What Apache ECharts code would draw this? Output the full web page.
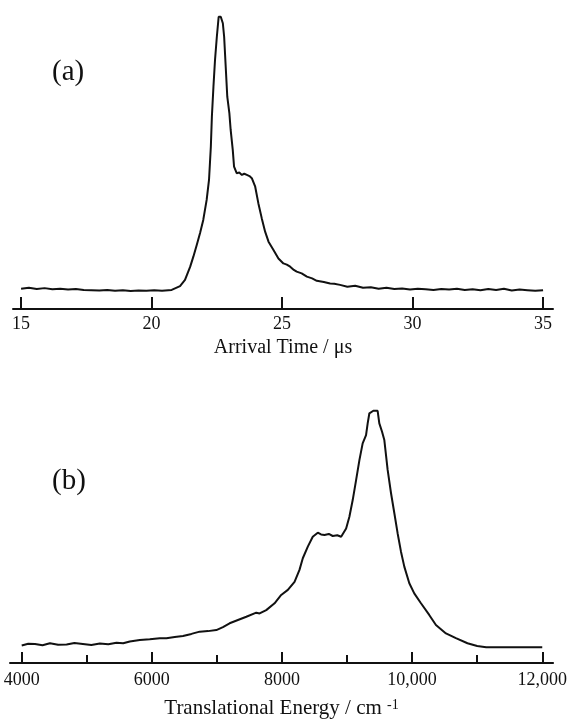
<!DOCTYPE html>
<html>
<head>
<meta charset="utf-8">
<script src="https://cdn.jsdelivr.net/npm/echarts@6/dist/echarts.min.js"></script>
<style>
  html, body { margin: 0; padding: 0; background: #fff; }
  #chart { width: 570px; height: 723px; }
</style>
</head>
<body>
<div id="chart"></div>
<script>
// panel (a): arrival time (us) vs signal (arb.)
const timeUs = [
  15.0, 15.3, 15.6, 15.9, 16.2, 16.5, 16.8, 17.1, 17.4, 17.7, 18.0, 18.3, 18.6, 18.9, 19.2, 19.5, 19.8, 20.1, 20.4, 20.77,
  21.09, 21.28, 21.48, 21.6, 21.73, 21.86, 21.98, 22.11, 22.2, 22.27, 22.31, 22.37, 22.43, 22.5, 22.57, 22.65,
  22.73, 22.78, 22.84, 22.9, 22.98, 23.03, 23.11, 23.16, 23.26, 23.36, 23.46, 23.55, 23.65, 23.75, 23.84, 23.97,
  24.09, 24.22, 24.35, 24.48, 24.67, 24.86, 25.05, 25.18, 25.31, 25.45, 25.56, 25.75, 25.95, 26.15, 26.33, 26.6, 26.84, 27.0, 27.22,
  27.5, 27.8, 28.1, 28.4, 28.7, 29.0, 29.3, 29.6, 29.9, 30.2, 30.5, 30.8, 31.1, 31.4, 31.7, 32.0, 32.3, 32.6, 32.9,
  33.2, 33.5, 33.8, 34.1, 34.4, 34.7, 35.0
];
const signalA = [
  6.9, 7.2, 6.8, 7.1, 6.7, 6.9, 6.6, 6.8, 6.5, 6.4, 6.3, 6.5, 6.2, 6.4, 6.1, 6.3, 6.2, 6.4, 6.2, 6.5,
  7.8, 9.9, 14.4, 17.8, 21.8, 25.9, 30.3, 37.1, 43.9, 55.2, 65.4, 75.6, 84.7, 92.6, 99.4, 99.4,
  97.2, 92.6, 82.4, 72.2, 66.6, 60.9, 54.1, 48.4, 46.2, 46.4, 45.6, 46.0, 45.6, 45.2, 44.5, 41.6,
  36.0, 30.9, 26.3, 22.9, 20.1, 17.2, 15.5, 15.1, 14.4, 13.3, 12.7, 12.1, 11.0, 10.4, 9.6, 9.2, 8.7, 8.6, 8.2,
  7.6, 7.9, 7.2, 7.4, 6.9, 7.2, 6.8, 7.0, 6.6, 6.9, 6.7, 6.5, 6.8, 6.6, 6.9, 6.5, 6.7, 6.4, 6.8,
  6.5, 6.9, 6.3, 6.6, 6.4, 6.2, 6.4
];
const ticksA = [15, 20, 25, 30, 35];

// panel (b): translational energy (cm-1) vs signal (arb.)
const energyCm = [
  4000, 4100, 4204, 4320, 4434, 4560, 4690, 4810, 4940, 5070, 5201, 5330, 5457, 5560, 5661, 5815, 5968, 6122, 6224,
  6352, 6479, 6608, 6735, 6863, 6991, 7093, 7195, 7323, 7452, 7605, 7656, 7758, 7886, 7988, 8090, 8193, 8269,
  8320, 8397, 8473, 8550, 8600, 8653, 8720, 8780, 8850, 8909, 8986, 9036, 9087, 9139, 9190, 9240, 9292, 9317,
  9343, 9404, 9470, 9496, 9538, 9573, 9624, 9676, 9727, 9777, 9829, 9880, 9957, 10033, 10136, 10263, 10366,
  10520, 10673, 10851, 11000, 11138, 11400, 11700, 12000
];
const signalB = [
  6.9, 7.6, 7.5, 7.0, 7.8, 7.2, 7.3, 7.9, 7.5, 7.1, 7.7, 7.4, 8.0, 7.8, 8.5, 9.1, 9.4, 9.8, 9.8,
  10.3, 10.7, 11.5, 12.4, 12.6, 13.0, 14.2, 15.7, 17.0, 18.3, 19.9, 19.6, 20.9, 23.6, 26.9, 28.9, 32.1, 36.8,
  41.4, 46.0, 49.9, 51.5, 50.8, 50.6, 51.0, 50.2, 50.5, 49.9, 53.2, 57.8, 64.4, 72.3, 80.2, 86.8, 90.1, 94.7,
  98.7, 99.7, 99.7, 94.7, 91.4, 88.1, 76.3, 67.1, 59.2, 51.3, 44.0, 38.1, 31.5, 27.5, 23.6, 19.0, 15.0,
  11.7, 9.8, 7.8, 6.7, 6.2, 6.2, 6.2, 6.2
];
const ticksB = [4000, 6000, 8000, 10000, 12000];
const minorTicksB = [5000, 7000, 9000, 11000];

const serif = 'Liberation Serif';
const ink = '#111';

const pairs = (xs, ys) => xs.map((x, i) => [x, ys[i]]);
const fmtEnergy = v => (v >= 10000 ? String(v).replace(/(\d+)(\d{3})$/, '$1,$2') : String(v));

const chart = echarts.init(document.getElementById('chart'));

const option = {
  animation: false,
  backgroundColor: '#fff',
  grid: [
    { left: 13, right: 17, top: 15, height: 294 },
    { left: 10, right: 16, top: 410, height: 253 }
  ],
  xAxis: [
    {
      gridIndex: 0,
      type: 'value',
      position: 'bottom',
      min: 14.69,
      max: 35.38,
      axisLine: { lineStyle: { color: ink, width: 2 } },
      axisTick: { inside: true, length: 12, customValues: ticksA, lineStyle: { color: ink, width: 2 } },
      axisLabel: {
        customValues: ticksA,
        margin: 6,
        fontFamily: serif,
        fontSize: 18,
        color: ink
      },
      splitLine: { show: false },
      name: 'Arrival Time / μs',
      nameLocation: 'middle',
      nameGap: 29,
      nameTextStyle: { fontFamily: serif, fontSize: 20, color: ink }
    },
    {
      gridIndex: 1,
      type: 'value',
      position: 'bottom',
      min: 3820,
      max: 12166,
      axisLine: { lineStyle: { color: ink, width: 2 } },
      axisTick: { inside: true, length: 11, customValues: ticksB, lineStyle: { color: ink, width: 2 } },
      axisLabel: {
        customValues: ticksB,
        margin: 8,
        fontFamily: serif,
        fontSize: 18,
        color: ink,
        formatter: fmtEnergy
      },
      splitLine: { show: false },
      name: '{t|Translational Energy / cm }{s|-1}',
      nameLocation: 'middle',
      nameGap: 35,
      nameTextStyle: {
        fontFamily: serif,
        fontSize: 21,
        color: ink,
        rich: {
          t: { fontFamily: serif, fontSize: 21, color: ink },
          s: { fontFamily: serif, fontSize: 14, color: ink, verticalAlign: 'top' }
        }
      }
    },
    {
      // minor ticks of the energy axis
      gridIndex: 1,
      type: 'value',
      position: 'bottom',
      offset: 0,
      min: 3820,
      max: 12166,
      axisLine: { show: false },
      axisTick: { inside: true, length: 8, customValues: minorTicksB, lineStyle: { color: ink, width: 2 } },
      axisLabel: { show: false },
      splitLine: { show: false }
    }
  ],
  yAxis: [
    { gridIndex: 0, type: 'value', min: 0, max: 100, show: false },
    { gridIndex: 1, type: 'value', min: 0, max: 100, show: false }
  ],
  graphic: [
    {
      type: 'text',
      left: 52,
      top: 58,
      style: { text: '(a)', fontFamily: serif, fontSize: 29, fill: ink }
    },
    {
      type: 'text',
      left: 52,
      top: 467,
      style: { text: '(b)', fontFamily: serif, fontSize: 29, fill: ink }
    }
  ],
  series: [
    {
      name: 'arrival',
      type: 'line',
      xAxisIndex: 0,
      yAxisIndex: 0,
      symbol: 'none',
      lineStyle: { color: ink, width: 2 },
      data: pairs(timeUs, signalA)
    },
    {
      name: 'energy',
      type: 'line',
      xAxisIndex: 1,
      yAxisIndex: 1,
      symbol: 'none',
      lineStyle: { color: ink, width: 2 },
      data: pairs(energyCm, signalB)
    }
  ]
};

chart.setOption(option);
</script>
</body>
</html>
